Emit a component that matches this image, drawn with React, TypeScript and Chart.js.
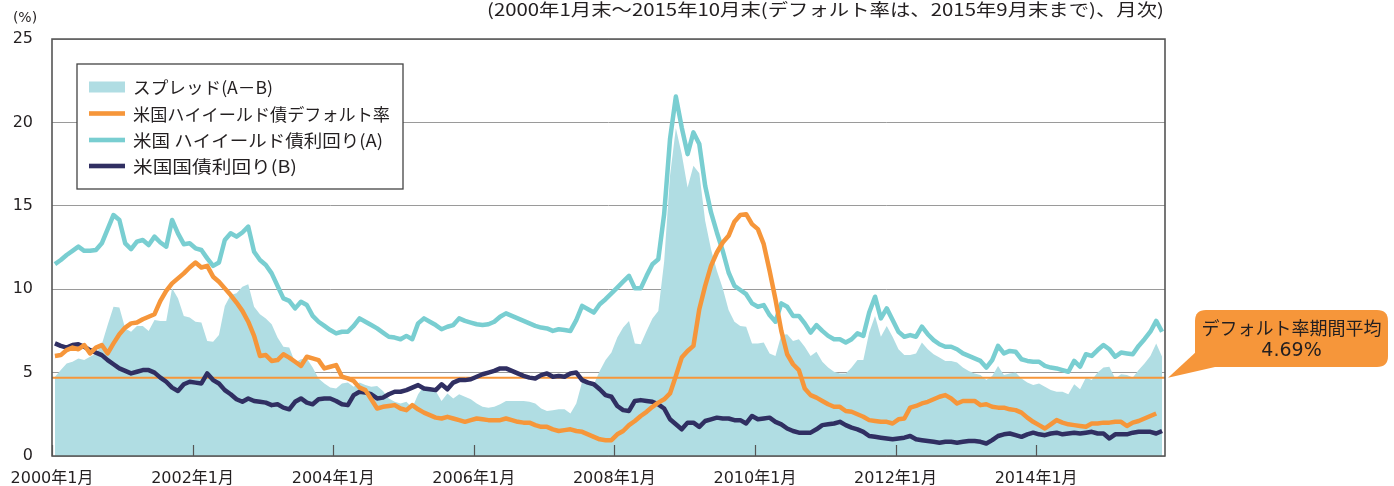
import React, { useEffect, useRef } from 'react';
import { Chart, registerables } from 'chart.js';

Chart.register(...registerables);

// Monthly, 2000年1月 (index 0) … 2015年10月 (index 189)
const HY_YIELD = [
  11.5, 11.75, 12.05, 12.3, 12.55, 12.3, 12.3, 12.35, 12.75, 13.6, 14.45, 14.15,
  12.75, 12.4, 12.85, 12.95, 12.65, 13.15, 12.8, 12.55, 14.15, 13.35, 12.7, 12.75,
  12.45, 12.35, 11.85, 11.4, 11.6, 12.95, 13.35, 13.15, 13.4, 13.75, 12.25, 11.75,
  11.45, 10.95, 10.2, 9.45, 9.3, 8.85, 9.25, 9.05, 8.4, 8.05, 7.8, 7.55,
  7.35, 7.45, 7.45, 7.8, 8.25, 8.05, 7.85, 7.65, 7.4, 7.15, 7.1, 7.0,
  7.2, 7.0, 7.95, 8.25, 8.05, 7.85, 7.6, 7.75, 7.85, 8.25, 8.1, 8.0,
  7.9, 7.85, 7.9, 8.05, 8.35, 8.55, 8.4, 8.25, 8.1, 7.95, 7.8, 7.7,
  7.65, 7.5, 7.6, 7.55, 7.5, 8.15, 9.0, 8.8, 8.6, 9.1, 9.4, 9.75,
  10.1, 10.45, 10.8, 10.05, 10.05, 10.8, 11.5, 11.8, 14.5, 19.0, 21.55, 19.7,
  18.1, 19.4, 18.7, 16.2, 14.6, 13.4, 12.3, 11.0, 10.2, 9.95, 9.7, 9.15,
  8.95, 9.05, 8.45, 8.05, 9.15, 8.95, 8.4, 8.4, 7.95, 7.4, 7.85, 7.5,
  7.2, 7.0, 7.0, 6.8, 7.0, 7.35, 7.2, 8.6, 9.55, 8.25, 8.85, 8.15,
  7.45, 7.15, 7.25, 7.15, 7.75, 7.3, 6.95, 6.7, 6.55, 6.55, 6.4, 6.15,
  6.0, 5.85, 5.7, 5.3, 5.75, 6.6, 6.15, 6.3, 6.25, 5.8, 5.7, 5.65,
  5.65, 5.4, 5.3, 5.25, 5.15, 5.05, 5.7, 5.35, 6.1, 6.0, 6.35, 6.65,
  6.4, 5.95, 6.2, 6.15, 6.1, 6.6, 7.0, 7.45, 8.1, 7.45,
];

const TREASURY_YIELD = [
  6.75, 6.6, 6.5, 6.65, 6.7, 6.55, 6.35, 6.2, 6.05, 5.75, 5.5, 5.25,
  5.1, 4.95, 5.05, 5.15, 5.15, 5.0, 4.7, 4.45, 4.1, 3.9, 4.3, 4.45,
  4.4, 4.35, 4.95, 4.55, 4.35, 3.95, 3.7, 3.4, 3.25, 3.45, 3.3, 3.25,
  3.2, 3.05, 3.1, 2.9, 2.8, 3.25, 3.45, 3.2, 3.1, 3.4, 3.45, 3.45,
  3.3, 3.1, 3.05, 3.65, 3.85, 3.8, 3.7, 3.45, 3.5, 3.7, 3.85, 3.85,
  3.95, 4.1, 4.25, 4.05, 4.0, 3.95, 4.3, 4.0, 4.4, 4.55, 4.55, 4.6,
  4.75, 4.9, 5.0, 5.1, 5.25, 5.25, 5.1, 4.95, 4.8, 4.7, 4.65, 4.85,
  4.95, 4.75, 4.8, 4.75, 4.95, 5.0, 4.55, 4.4, 4.3, 4.0, 3.65, 3.55,
  3.0, 2.75, 2.7, 3.3, 3.35, 3.3, 3.25, 3.1, 2.85, 2.2, 1.9, 1.6,
  2.0, 2.0, 1.75, 2.1, 2.2, 2.3, 2.25, 2.25, 2.15, 2.15, 1.95, 2.4,
  2.2, 2.25, 2.3, 2.05, 1.9, 1.65, 1.5, 1.4, 1.4, 1.4, 1.6, 1.85,
  1.9, 1.95, 2.05, 1.85, 1.7, 1.6, 1.45, 1.2, 1.15, 1.1, 1.05, 1.0,
  1.05, 1.1, 1.2, 1.0, 0.95, 0.9, 0.85, 0.8, 0.85, 0.85, 0.8, 0.85,
  0.9, 0.9, 0.85, 0.75, 0.95, 1.2, 1.3, 1.35, 1.25, 1.15, 1.3, 1.4,
  1.3, 1.25, 1.35, 1.4, 1.3, 1.35, 1.4, 1.35, 1.4, 1.45, 1.35, 1.35,
  1.05, 1.3, 1.3, 1.3, 1.4, 1.45, 1.45, 1.45, 1.35, 1.5,
];

// Default rate: 2000年1月 … 2015年9月 (index 0 … 188)
const DEFAULT_RATE = [
  6.0, 6.05, 6.35, 6.5, 6.4, 6.65, 6.15, 6.5, 6.65, 6.15, 6.75, 7.3,
  7.7, 7.95, 8.0, 8.2, 8.35, 8.5, 9.3, 9.9, 10.35, 10.65, 10.95, 11.3,
  11.6, 11.3, 11.4, 10.75, 10.45, 10.05, 9.65, 9.2, 8.7, 8.05, 7.2, 6.0,
  6.05, 5.7, 5.75, 6.1, 5.9, 5.65, 5.4, 5.95, 5.85, 5.75, 5.25, 5.35,
  5.45, 4.75, 4.65, 4.5, 4.1, 3.95, 3.4, 2.85, 2.95, 3.0, 3.05, 2.85,
  2.75, 3.05, 2.8, 2.6, 2.45, 2.3, 2.25, 2.35, 2.25, 2.15, 2.05, 2.15,
  2.25, 2.2, 2.15, 2.15, 2.15, 2.25, 2.15, 2.05, 2.0, 2.0, 1.85, 1.75,
  1.75, 1.6, 1.5, 1.55, 1.6, 1.5, 1.45, 1.3, 1.15, 1.0, 0.95, 0.95,
  1.3, 1.5, 1.85, 2.1, 2.4, 2.65, 2.95, 3.2, 3.4, 3.75, 4.8, 5.9,
  6.3, 6.6, 8.8, 10.2, 11.4, 12.2, 12.8, 13.2, 14.05, 14.45, 14.5, 13.9,
  13.6, 12.7, 11.1, 9.4, 7.5, 6.1, 5.5, 5.15, 4.05, 3.65, 3.5, 3.3,
  3.1, 2.95, 2.95, 2.7, 2.65, 2.5, 2.35, 2.15, 2.1, 2.05, 2.05, 1.95,
  2.2, 2.25, 2.9, 3.0, 3.15, 3.25, 3.4, 3.55, 3.65, 3.45, 3.15, 3.3,
  3.3, 3.3, 3.05, 3.1, 2.95, 2.9, 2.9, 2.8, 2.75, 2.6, 2.3, 2.05,
  1.85, 1.65, 1.9, 2.15, 2.0, 1.9, 1.85, 1.8, 1.75, 1.95, 1.95, 2.0,
  2.0, 2.05, 2.05, 1.8, 2.0, 2.1, 2.25, 2.4, 2.55,
];

const DEFAULT_AVG = 4.69;

const X_TICK_MONTHS = [0, 24, 48, 72, 96, 120, 144, 168];
const X_TICK_LABELS = ['2000年1月', '2002年1月', '2004年1月', '2006年1月', '2008年1月', '2010年1月', '2012年1月', '2014年1月'];
const Y_MIN = 0;
const Y_MAX = 25;
const Y_STEP = 5;

const TITLE = '(2000年1月末～2015年10月末(デフォルト率は、2015年9月末まで)、月次)';
const Y_UNIT = '(%)';
const LEGEND_LABELS = ['スプレッド(A－B)', '米国ハイイールド債デフォルト率', '米国 ハイイールド債利回り(A)', '米国国債利回り(B)'];
const CALLOUT_LINE1 = 'デフォルト率期間平均';

const C_SPREAD = '#b0dde3';
const C_HY = '#79ced1';
const C_DEFAULT = '#f6963a';
const C_TSY = '#302f62';
const C_GRID = '#9a9a9a';
const C_AXIS = '#555555';
const C_TEXT = '#231f20';

const JP_FONT = '"Noto Sans CJK JP", "Noto Sans", sans-serif';
const NUM_FONT = '"DejaVu Sans", "Noto Sans CJK JP", sans-serif';

const toPoints = (arr: number[]) => arr.map((v, i) => ({ x: i, y: v }));
const SPREAD = HY_YIELD.map((v, i) => v - TREASURY_YIELD[i]);

function fitText(ctx: CanvasRenderingContext2D, text: string, x: number, y: number, targetW: number, align: 'left' | 'right' | 'center') {
  const w = ctx.measureText(text).width;
  let sx = targetW / w;
  if (sx < 0.8 || sx > 1.3) sx = 1;
  ctx.save();
  ctx.translate(x, y);
  ctx.scale(sx, 1);
  ctx.textAlign = align;
  ctx.fillText(text, 0, 0);
  ctx.restore();
}

const decorPlugin = {
  id: 'decor',
  afterDatasetsDraw(chart: any) {
    const { ctx, chartArea: a, scales } = chart;
    const x = scales.x;
    ctx.save();
    ctx.strokeStyle = C_AXIS;
    ctx.lineWidth = 1.2;
    X_TICK_MONTHS.forEach((m) => {
      const px = Math.round(x.getPixelForValue(m - 0.5)) + 0.5;
      ctx.beginPath();
      ctx.moveTo(px, a.bottom);
      ctx.lineTo(px, a.bottom - 11);
      ctx.stroke();
    });
    ctx.lineWidth = 1.6;
    ctx.beginPath();
    ctx.rect(a.left, a.top, a.right - a.left, a.bottom - a.top);
    ctx.stroke();
    ctx.restore();
  },
  afterDraw(chart: any) {
    const { ctx, chartArea: a, scales } = chart;
    const y = scales.y;
    ctx.save();

    // unit
    ctx.fillStyle = C_TEXT;
    ctx.font = `14px ${NUM_FONT}`;
    ctx.textAlign = 'center';
    ctx.textBaseline = 'middle';
    ctx.fillText(Y_UNIT, 25, 18);

    // title (right-aligned to the plot edge)
    ctx.font = `17px ${JP_FONT}`;
    ctx.textBaseline = 'middle';
    fitText(ctx, TITLE, a.right - 1, 10, 677, 'right');

    // legend box
    const lx = 77, ly = 64, lw = 326, lh = 125;
    ctx.fillStyle = '#ffffff';
    ctx.fillRect(lx, ly, lw, lh);
    ctx.strokeStyle = '#444444';
    ctx.lineWidth = 1.3;
    ctx.strokeRect(lx, ly, lw, lh);
    const rows = [87, 113.5, 140, 166];
    const colors = [C_SPREAD, C_DEFAULT, C_HY, C_TSY];
    const widths = [140, 257, 250, 164];
    rows.forEach((ry, i) => {
      ctx.fillStyle = colors[i];
      if (i === 0) ctx.fillRect(89, ry - 5.5, 36, 11);
      else ctx.fillRect(89, ry - 2.3, 36, 4.6);
      ctx.fillStyle = C_TEXT;
      ctx.font = `17px ${JP_FONT}`;
      ctx.textBaseline = 'middle';
      fitText(ctx, LEGEND_LABELS[i], 133, ry + 1, widths[i], 'left');
    });

    // callout
    const tipX = a.right + 3;
    const tipY = y.getPixelForValue(DEFAULT_AVG);
    const bx = 1195, by = 310, bw = 193, bh = 57, r = 11;
    ctx.fillStyle = C_DEFAULT;
    ctx.beginPath();
    ctx.moveTo(bx + r, by);
    ctx.lineTo(bx + bw - r, by);
    ctx.quadraticCurveTo(bx + bw, by, bx + bw, by + r);
    ctx.lineTo(bx + bw, by + bh - r);
    ctx.quadraticCurveTo(bx + bw, by + bh, bx + bw - r, by + bh);
    ctx.lineTo(bx + r, by + bh);
    ctx.quadraticCurveTo(bx, by + bh, bx, by + bh - r);
    ctx.lineTo(bx, by + r);
    ctx.quadraticCurveTo(bx, by, bx + r, by);
    ctx.closePath();
    ctx.fill();
    ctx.beginPath();
    ctx.moveTo(tipX, tipY);
    ctx.lineTo(bx + 2, by + bh - 16);
    ctx.lineTo(bx + 20, by + bh);
    ctx.closePath();
    ctx.fill();
    ctx.fillStyle = C_TEXT;
    ctx.textAlign = 'center';
    ctx.textBaseline = 'middle';
    ctx.font = `18px ${JP_FONT}`;
    ctx.fillText(CALLOUT_LINE1, bx + bw / 2, by + 18);
    ctx.font = `19px ${NUM_FONT}`;
    ctx.fillText(`${DEFAULT_AVG.toFixed(2)}%`, bx + bw / 2, by + 41);

    ctx.restore();
  },
};

export default function App() {
  const ref = useRef<HTMLCanvasElement | null>(null);

  useEffect(() => {
    if (!ref.current) return;
    const chart = new Chart(ref.current, {
      type: 'line',
      data: {
        datasets: [
          {
            label: LEGEND_LABELS[0],
            data: toPoints(SPREAD),
            fill: 'origin',
            backgroundColor: C_SPREAD,
            borderColor: 'rgba(0,0,0,0)',
            borderWidth: 0,
            pointRadius: 0,
            order: 5,
          },
          {
            label: 'avg',
            data: [
              { x: -0.5, y: DEFAULT_AVG },
              { x: HY_YIELD.length - 0.5, y: DEFAULT_AVG },
            ],
            borderColor: C_DEFAULT,
            borderWidth: 1.8,
            pointRadius: 0,
            fill: false,
            order: 4,
          },
          {
            label: LEGEND_LABELS[2],
            data: toPoints(HY_YIELD),
            borderColor: C_HY,
            borderWidth: 4.5,
            pointRadius: 0,
            fill: false,
            order: 3,
          },
          {
            label: LEGEND_LABELS[3],
            data: toPoints(TREASURY_YIELD),
            borderColor: C_TSY,
            borderWidth: 4.5,
            pointRadius: 0,
            fill: false,
            order: 2,
          },
          {
            label: LEGEND_LABELS[1],
            data: toPoints(DEFAULT_RATE),
            borderColor: C_DEFAULT,
            borderWidth: 4.5,
            pointRadius: 0,
            fill: false,
            order: 1,
          },
        ],
      },
      options: {
        animation: false,
        responsive: false,
        devicePixelRatio: 1,
        events: [],
        layout: { padding: { left: 0, right: 229, top: 39, bottom: 0 } },
        elements: {
          line: { tension: 0, borderJoinStyle: 'round', borderCapStyle: 'butt' },
          point: { radius: 0 },
        },
        plugins: {
          legend: { display: false },
          tooltip: { enabled: false },
          title: { display: false },
        },
        scales: {
          x: {
            type: 'linear',
            min: -0.5,
            max: HY_YIELD.length - 0.5,
            afterBuildTicks: (s: any) => {
              s.ticks = X_TICK_MONTHS.map((m) => ({ value: m - 0.5 }));
            },
            afterFit: (s: any) => {
              s.height = 30;
            },
            grid: { display: false },
            border: { display: false },
            ticks: {
              autoSkip: false,
              maxRotation: 0,
              minRotation: 0,
              padding: 5,
              color: C_TEXT,
              font: { family: NUM_FONT, size: 16 },
              callback: (_v: any, i: number) => X_TICK_LABELS[i],
            },
          },
          y: {
            min: Y_MIN,
            max: Y_MAX,
            afterFit: (s: any) => {
              s.width = 52;
            },
            grid: { color: C_GRID, lineWidth: 1, drawTicks: false },
            border: { display: false },
            ticks: {
              stepSize: Y_STEP,
              padding: 19,
              color: C_TEXT,
              font: { family: NUM_FONT, size: 16 },
            },
          },
        },
      },
      plugins: [decorPlugin],
    } as any);
    return () => chart.destroy();
  }, []);

  return (
    <div style={{ position: 'absolute', left: 0, top: 0, width: 1394, height: 486, background: '#ffffff' }}>
      <canvas ref={ref} width={1394} height={486} style={{ display: 'block', width: 1394, height: 486 }} />
    </div>
  );
}
